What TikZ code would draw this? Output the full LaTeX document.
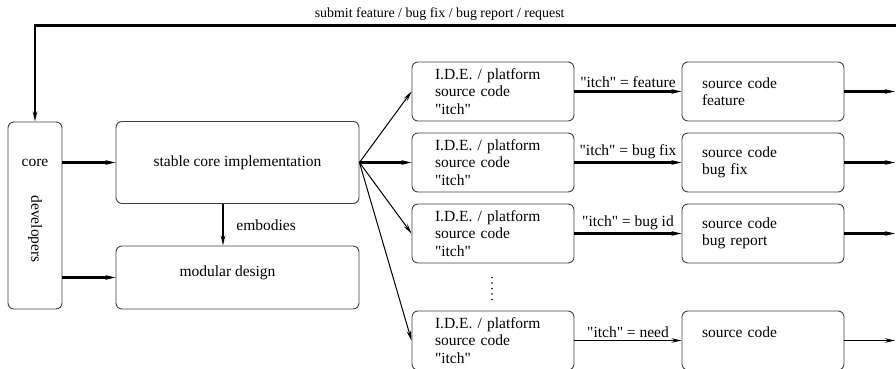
\documentclass[tikz,border=0pt]{standalone}
\usepackage{fontspec}
\setmainfont{Liberation Serif}
\usepackage{tikz}
\usetikzlibrary{arrows.meta}
\usetikzlibrary{positioning}
\newcommand{\itch}{\textquotedbl itch\textquotedbl}
\tikzstyle{rbox}=[draw=black!75, line width=0.9pt, rounded corners=6pt, inner sep=0pt]
\tikzstyle{idebox}=[rbox, minimum width=162pt, minimum height=59pt, text width=116pt, align=left]
\tikzstyle{srcbox}=[rbox, minimum width=162pt, minimum height=59pt, text width=122pt, align=left]
\tikzstyle{flow}=[-{Stealth[length=10pt,width=4.5pt]}, line width=2.2pt]
\tikzstyle{thinflow}=[-{Stealth[length=10pt,width=4.5pt]}, line width=1pt]

\begin{document}
\begin{tikzpicture}[x=1pt, y=-1pt, font=\fontsize{15.5}{17.5}\selectfont]
\useasboundingbox (0,0) rectangle (896,369);
% left part
\node[rbox, minimum width=54pt, minimum height=187pt] (coredev) at (35,215.5){};
\node (core) at (35,163){core};
\node[rotate=-90] (devs) at (35,229){developers};
\node[rbox, minimum width=243pt, minimum height=82pt] (stable) at (237.5,162.5){stable core implementation};
\node[rbox, minimum width=243pt, minimum height=63pt, text depth=12pt] (modular) at (237.5,277.5){\hspace*{-20pt}modular design};
\draw[flow](coredev.east |- stable) -- (stable);
\draw[flow](coredev.east |- modular.west) -- (modular.west);
\draw[flow]([xshift=-14.5pt]stable.south) -- node[right=9pt]{embodies} ([xshift=-14.5pt]modular.north);
% itches
\node[idebox] (ide1) at (493,91.5){I.D.E. / platform\\source code\\\itch};
\node[idebox] (ide2) at (493,162.5){I.D.E. / platform\\source code\\\itch};
\node[idebox] (ide3) at (493,233.5){I.D.E. / platform\\source code\\\itch};
\node[idebox] (ide4) at (493,340.5){I.D.E. / platform\\source code\\\itch};
\draw[line width=1.8pt, dash pattern=on 0pt off 5.5pt, line cap=round] (ide3.south -| 492,0) ++(0,14) -- ++(0,24);
\draw[thinflow](stable.east) -- (ide1.west);
\draw[flow](stable.east) -- (ide2.west);
\draw[thinflow](stable.east) -- (ide3.west);
\draw[thinflow](stable.east) -- (ide4.west);
% results
\node[srcbox] (src1) at (763,91.5){source code\\feature};
\node[srcbox] (src2) at (763,162.5){source code\\bug fix};
\node[srcbox] (src3) at (763,233.5){source code\\bug report};
\node[srcbox] (src4) at (763,340.5){source code\\~};
\draw[flow](ide1) -- node[above=-1pt]{\itch{} = feature} (src1);
\draw[flow](ide2) -- node[above=-1pt]{\itch{} = bug fix} (src2);
\draw[flow](ide3) -- node[above=-1pt]{\itch{} = bug id} (src3);
\draw[thinflow](ide4) -- node[above=-1pt]{\itch{} = need} (src4);
\coordinate (out1) at (895,91.5);
\coordinate (out2) at (895,162.5);
\coordinate (out3) at (895,233.5);
\coordinate (out4) at (895,340.5);
\draw[flow](src1) -- (out1);
\draw[flow](src2) -- (out2);
\draw[flow](src3) -- (out3);
\draw[thinflow](src4) -- (out4);
% feedback
\coordinate (back) at (896,25.5);
\draw[flow](back) -- node[above=1pt, pos=0.53, font=\fontsize{13.9}{16}\selectfont]{submit feature / bug fix / bug report / request} (back -| coredev) -- (coredev.north);
\end{tikzpicture}
\end{document}
